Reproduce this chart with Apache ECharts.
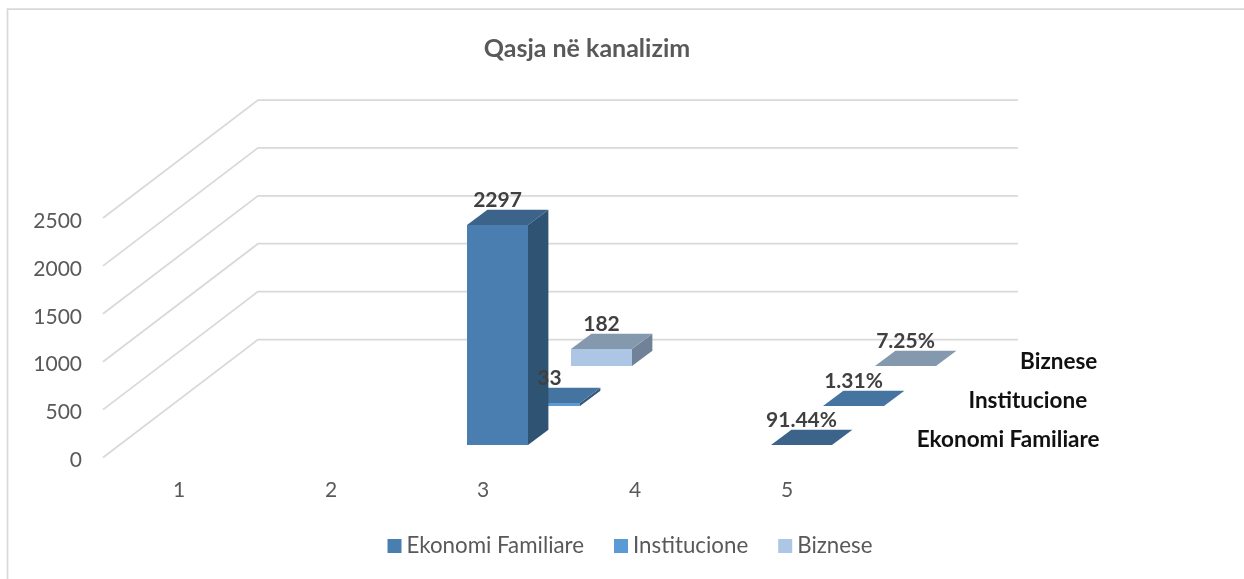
<!DOCTYPE html>
<html>
<head>
<meta charset="utf-8">
<style>html,body{margin:0;padding:0;background:#fff;overflow:hidden}#c{width:1244px;height:579px}</style>
<script src="https://cdn.jsdelivr.net/npm/echarts@6/dist/echarts.min.js"></script>
</head>
<body>
<div id="c"></div>
<script>
const categories = ['1', '2', '3', '4', '5'];
const yTicks = [0, 500, 1000, 1500, 2000, 2500];
const seriesNames = ['Ekonomi Familiare', 'Institucione', 'Biznese'];
const ekonomiValues = [null, null, 2297, null, 0.9144];
const institucioneValues = [null, null, 33, null, 0.0131];
const biznesValues = [null, null, 182, null, 0.0725];
const allValues = [ekonomiValues, institucioneValues, biznesValues];

const FONT = 'Lato';
const DEPTH_X = 155, DEPTH_Y = 118;
const ROW_X = DEPTH_X / 3, ROW_Y = DEPTH_Y / 3;
const INSET_X = 14.7, INSET_Y = 12.5, BAR_DX = 20.4, BAR_DY = 15.3, BAR_RATIO = 0.4;
const faces = [
  { front: '#4a7eb1', top: '#3c6389', side: '#2e5373' },
  { front: '#5b9bd5', top: '#44749f', side: '#35597a' },
  { front: '#adc6e5', top: '#8498ae', side: '#6f8297' }
];

function geom(api, row) {
  const i = api.value(0), v = api.value(1);
  const p0 = api.coord([i, 0]), p1 = api.coord([i, v]);
  const w = Math.round(api.size([1, 0])[0] * BAR_RATIO);
  const x0 = Math.round(p0[0] + INSET_X + row * ROW_X - w / 2);
  const yb = Math.round(p0[1] - INSET_Y - row * ROW_Y);
  const yt = yb - Math.round(p0[1] - p1[1]);
  return { x0, x1: x0 + w, yb, yt };
}
function barRender(row) {
  return function (params, api) {
    const g = geom(api, row), c = faces[row];
    const poly = (pts, fill) => ({ type: 'polygon', shape: { points: pts }, style: { fill: fill } });
    return {
      type: 'group',
      children: [
        poly([[g.x0, g.yb], [g.x1, g.yb], [g.x1, g.yt], [g.x0, g.yt]], c.front),
        poly([[g.x1, g.yb], [g.x1 + BAR_DX, g.yb - BAR_DY], [g.x1 + BAR_DX, g.yt - BAR_DY], [g.x1, g.yt]], c.side),
        poly([[g.x0, g.yt], [g.x1, g.yt], [g.x1 + BAR_DX, g.yt - BAR_DY], [g.x0 + BAR_DX, g.yt - BAR_DY]], c.top)
      ]
    };
  };
}
function toPairs(arr) {
  const out = [];
  arr.forEach((v, i) => { if (v !== null) out.push([i, v]); });
  return out;
}
function fmt(v) { return v < 1 ? (v * 100).toFixed(2) + '%' : String(v); }

const labelData = [];
allValues.forEach((arr, row) => toPairs(arr).forEach(p => labelData.push([p[0], p[1], row])));

const chart = echarts.init(document.getElementById('c'), null, { renderer: 'canvas' });
chart.setOption({
  animation: false,
  backgroundColor: '#fff',
  textStyle: { fontFamily: FONT },
  title: {
    text: 'Qasja në kanalizim',
    left: 582, top: 31, textAlign: 'center',
    textStyle: { fontFamily: FONT, fontSize: 25, fontWeight: 'bold', color: '#595959' }
  },
  legend: {
    data: seriesNames,
    left: 382.5, top: 530,
    icon: 'rect', itemWidth: 14, itemHeight: 14, itemGap: 30,
    textStyle: { fontFamily: FONT, fontSize: 22.3, color: '#595959' },
    itemStyle: { borderWidth: 0 }
  },
  grid: { left: 103, width: 760, top: 218, height: 239.5, containLabel: false },
  xAxis: {
    type: 'category', data: categories,
    axisLine: { show: false }, axisTick: { show: false },
    axisLabel: { color: '#595959', fontSize: 21, margin: 22, fontFamily: FONT }
  },
  yAxis: {
    type: 'value', min: 0, max: 2500, interval: 500,
    axisLine: { show: false }, axisTick: { show: false }, splitLine: { show: false },
    axisLabel: {
      margin: 21, fontFamily: FONT,
      formatter: v => '{t|' + v + '}',
      rich: { t: { color: '#595959', fontSize: 21, fontFamily: FONT, padding: [6, 0, 0, 0] } }
    }
  },
  graphic: [
    { type: 'polyline', silent: true, shape: { points: [[7.5, 579], [7.5, 9], [1244, 9]] }, style: { stroke: '#d9d9d9', lineWidth: 1.75, fill: null } }
  ],
  series: [
    {
      name: 'walls', type: 'custom', z: 1, silent: true, clip: false,
      data: yTicks.map(t => [0, t]),
      encode: { x: 0, y: 1 },
      renderItem(params, api) {
        const p = api.coord([0, api.value(1)]);
        const band = api.size([1, 0])[0];
        const x0 = p[0] - band / 2, y = p[1];
        return {
          type: 'polyline',
          shape: { points: [[x0, y], [x0 + DEPTH_X, y - DEPTH_Y], [x0 + DEPTH_X + band * categories.length, y - DEPTH_Y]] },
          style: { stroke: '#d9d9d9', lineWidth: 1.75, fill: null }
        };
      }
    },
    {
      name: seriesNames[2], type: 'custom', z: 3, silent: true, clip: false,
      itemStyle: { color: faces[2].front },
      data: toPairs(biznesValues), encode: { x: 0, y: 1 }, renderItem: barRender(2)
    },
    {
      name: seriesNames[1], type: 'custom', z: 4, silent: true, clip: false,
      itemStyle: { color: faces[1].front },
      data: toPairs(institucioneValues), encode: { x: 0, y: 1 }, renderItem: barRender(1)
    },
    {
      name: seriesNames[0], type: 'custom', z: 5, silent: true, clip: false,
      itemStyle: { color: faces[0].front },
      data: toPairs(ekonomiValues), encode: { x: 0, y: 1 }, renderItem: barRender(0)
    },
    {
      name: 'labels', type: 'custom', z: 6, silent: true, clip: false,
      data: labelData, encode: { x: 0, y: 1 },
      renderItem(params, api) {
        const row = api.value(2);
        const g = geom(api, row);
        return {
          type: 'text',
          style: {
            text: fmt(api.value(1)), x: (g.x0 + g.x1) / 2, y: g.yt - BAR_DY - 9,
            align: 'center', verticalAlign: 'middle',
            font: 'bold 21px ' + FONT, fill: '#404040'
          }
        };
      }
    },
    {
      name: 'depth', type: 'custom', z: 6, silent: true, clip: false,
      data: seriesNames.map((n, r) => [categories.length - 1, 0, r]),
      encode: { x: 0, y: 1 },
      renderItem(params, api) {
        const r = api.value(2);
        const p = api.coord([api.value(0), 0]);
        const band = api.size([1, 0])[0];
        return {
          type: 'text',
          style: {
            text: seriesNames[r], x: p[0] + band / 2 + 53.7 + r * 51.7, y: p[1] - 17.5 - r * 39.2,
            align: 'left', verticalAlign: 'middle',
            font: 'bold 22.5px ' + FONT, fill: '#111'
          }
        };
      }
    }
  ]
});
</script>
</body>
</html>
